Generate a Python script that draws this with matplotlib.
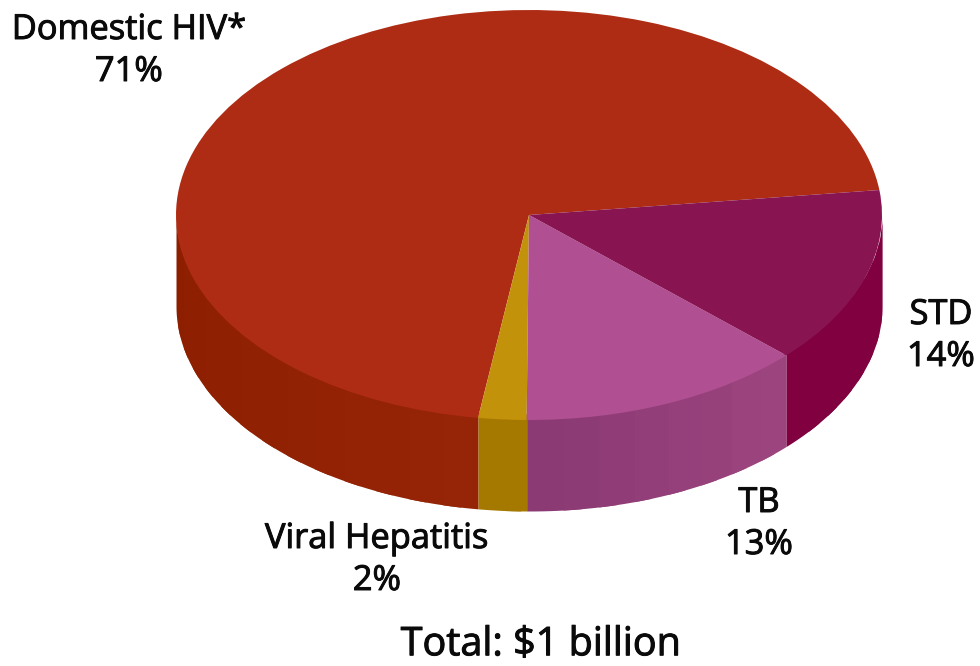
import numpy as np
import matplotlib
matplotlib.use("Agg")
import matplotlib.pyplot as plt
import matplotlib.patheffects as pe
from matplotlib.colors import to_rgb

categories = ["Domestic HIV*", "Viral Hepatitis", "TB", "STD"]
percent_labels = ["71%", "2%", "13%", "14%"]
values = [70.75, 2.2, 13.1, 13.95]
top_colors = ["#AF2C14", "#C2920A", "#B04F91", "#881552"]
wall_start = ["#8C1E00", "#A57800", "#8B3A74", "#800040"]
wall_end = ["#962406", "#A57800", "#9C447E", "#800040"]
total_label = "Total: $1 billion"

W, H = 980, 666
cx, cy, rx, ry, depth = 529.0, 215.0, 353.0, 205.0, 91.0
start_angle = 7.0

plt.rcParams["font.family"] = ["Open Sans", "DejaVu Sans"]
fig = plt.figure(figsize=(W / 100, H / 100), dpi=100, facecolor="white")
ax = fig.add_axes([0, 0, 1, 1])

wedges, _ = ax.pie(values, colors=top_colors, startangle=start_angle, radius=1,
                   wedgeprops=dict(linewidth=0, zorder=5))
ax.set_aspect("auto")
ax.set_xlim(-cx / rx, (W - cx) / rx)
ax.set_ylim((cy - H) / ry, cy / ry)
ax.axis("off")

d = depth / ry
for w, c0, c1 in zip(wedges, wall_start, wall_end):
    a0, a1 = w.theta1, w.theta2
    # front-facing part of the rim only
    for lo, hi in ((a0, a1), (a0 - 360, a1 - 360)):
        lo2, hi2 = max(lo, 180), min(hi, 360)
        if hi2 <= lo2:
            continue
        n = max(2, int((hi2 - lo2) / 6) + 1)
        edges = np.linspace(lo2, hi2, n + 1)
        c0r, c1r = np.array(to_rgb(c0)), np.array(to_rgb(c1))
        for i in range(n):
            # each band overlaps the next; the top edge tucks under the pie face
            t = np.radians(np.linspace(edges[i], min(edges[i + 1] + 3, hi2), 40))
            col = c0r + (c1r - c0r) * i / max(1, n - 1)
            ax.fill_between(np.cos(t), np.sin(t) - d, np.sin(t) * 0.97, color=col, lw=0, zorder=2)


def label(x, y, s, size):
    ax.text((x - cx) / rx, (cy - y) / ry, s, ha="center", va="center",
            fontsize=size, color="#0a0a0a", zorder=10,
            path_effects=[pe.withStroke(linewidth=0.7, foreground="#0a0a0a")])


fs = 24.8
label(129, 30, categories[0], fs)
label(129, 72, percent_labels[0], fs)
label(377, 539, categories[1], fs)
label(377, 581, percent_labels[1], fs)
label(759, 503, categories[2], fs)
label(759, 545, percent_labels[2], fs)
label(941, 315, categories[3], fs)
label(941, 357, percent_labels[3], fs)
label(541, 645, total_label.replace("$", r"\$"), 28.5)

fig.savefig("out.png", dpi=100, facecolor="white")
